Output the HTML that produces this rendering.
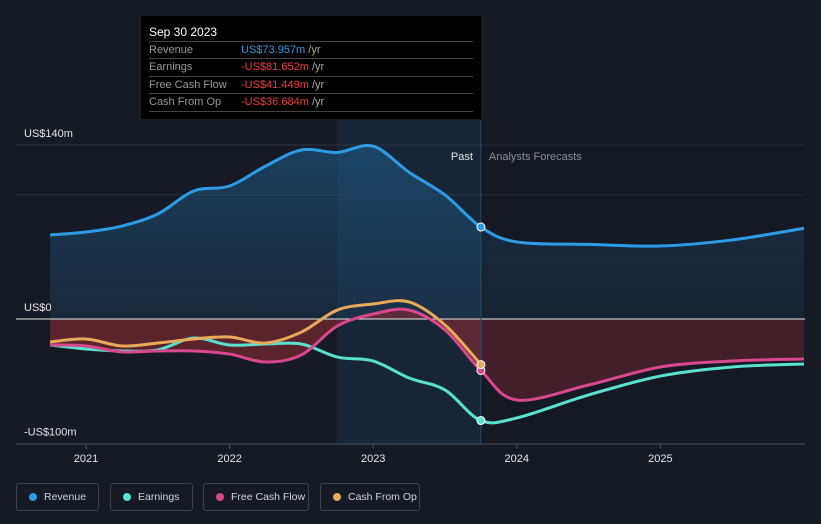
<!DOCTYPE html>
<html><head><meta charset="utf-8">
<style>
body{margin:0;background:#151a24;font-family:"Liberation Sans",sans-serif;}
#wrap{position:relative;width:821px;height:524px;overflow:hidden;background:#151a24;}
.leg{position:absolute;top:483px;height:28px;border:1px solid #3a414d;border-radius:3px;color:#d0d4da;font-size:10.5px;line-height:26px;box-sizing:border-box;padding-left:27px;white-space:nowrap;}
.leg i{position:absolute;left:12px;top:9px;width:8px;height:8px;border-radius:50%;}
#tip{position:absolute;left:141px;top:16px;width:340px;height:103px;background:#000;color:#fff;font-size:11px;}
#tip .r{position:absolute;left:8px;width:324px;border-top:1px solid #444;height:17px;line-height:17px;color:#999;}
#tip .r span{position:absolute;left:92px;}
</style></head><body>
<div id="wrap">
<svg id="svg" width="821" height="524" style="position:absolute;left:0;top:0"></svg>
<div id="tip">
<div style="position:absolute;left:8px;top:9px;font-size:12px;">Sep 30 2023</div>
<div class="r" style="top:25px">Revenue<span style="color:#2d9be6">US$73.957m <b style="font-weight:normal;color:#aaa">/yr</b></span></div>
<div class="r" style="top:42px">Earnings<span style="color:#ef3b3b">-US$81.652m <b style="font-weight:normal;color:#aaa">/yr</b></span></div>
<div class="r" style="top:60px">Free Cash Flow<span style="color:#ef3b3b">-US$41.449m <b style="font-weight:normal;color:#aaa">/yr</b></span></div>
<div class="r" style="top:77px">Cash From Op<span style="color:#ef3b3b">-US$36.684m <b style="font-weight:normal;color:#aaa">/yr</b></span></div>
<div class="r" style="top:95px;height:0"></div>
</div>
<div class="leg" style="left:16px;width:83px"><i style="background:#2d9be6"></i>Revenue</div>
<div class="leg" style="left:110px;width:83px"><i style="background:#58e1d0"></i>Earnings</div>
<div class="leg" style="left:203px;width:106px"><i style="background:#d9478f"></i>Free Cash Flow</div>
<div class="leg" style="left:320px;width:100px"><i style="background:#e8a95a"></i>Cash From Op</div>
</div>
<script>
const revT=[2020.75,2021,2021.25,2021.5,2021.75,2022,2022.25,2022.5,2022.75,2023,2023.25,2023.5,2023.75,2024,2024.5,2025,2025.5,2026];
const revV=[67.6,70,74.8,84.5,103,107,123,136,134,139,118,99.8,74,62,60,58.7,63.6,73];
const earnT=revT;
const earnV=[-20.9,-24.1,-25.7,-24.9,-15.3,-20.9,-20.1,-20.1,-30.6,-33.8,-47.5,-57.1,-81.7,-79.6,-61.1,-45.9,-38.6,-36.2];
const fcfV=[-20.9,-21.7,-26.5,-25.7,-25.7,-28.2,-34.6,-28.9,-5.6,4,7.2,-8.8,-41.4,-65.2,-53.1,-38.6,-33.8,-32.2];
const cfoT=[2020.75,2021,2021.25,2021.5,2021.75,2022,2022.25,2022.5,2022.75,2023,2023.25,2023.5,2023.75];
const cfoV=[-18.5,-16.1,-21.7,-19.3,-16.1,-14.5,-19.3,-10.5,7.2,12.1,13.7,-4.8,-36.7];
const yTicks=[140,0,-100];
const yLabels=["US$140m","US$0","-US$100m"];
const xTicks=[2021,2022,2023,2024,2025];
const X=t=>86+(t-2021)*143.6, Y=v=>319-v*1.243;
const svg=document.getElementById('svg'),NS='http://www.w3.org/2000/svg';
function el(tag,a,p){const e=document.createElementNS(NS,tag);for(const k in a)e.setAttribute(k,a[k]);(p||svg).appendChild(e);return e;}
function pts(T,V){return T.map((t,i)=>[X(t),Y(V[i])]);}
function path(P){let d='M'+P[0][0]+','+P[0][1];for(let i=0;i<P.length-1;i++){const p0=P[i-1]||P[i],p1=P[i],p2=P[i+1],p3=P[i+2]||p2;d+=` C${p1[0]+(p2[0]-p0[0])/6},${p1[1]+(p2[1]-p0[1])/6} ${p2[0]-(p3[0]-p1[0])/6},${p2[1]-(p3[1]-p1[1])/6} ${p2[0]},${p2[1]}`;}return d;}
const defs=el('defs',{});
const g=el('linearGradient',{id:'rg',x1:0,y1:0,x2:0,y2:1},defs);
el('stop',{offset:0,'stop-color':'#1e5a86','stop-opacity':0.6},g);el('stop',{offset:1,'stop-color':'#1e4466','stop-opacity':0.35},g);
let e;
e=el('rect',{x:X(2022.75),y:120,width:X(2023.75)-X(2022.75),height:324,fill:'#1a3550',opacity:0.45});

[140,100].forEach(v=>{e=el('line',{x1:16,x2:805,y1:Y(v),y2:Y(v),stroke:'#2c3340'});});
const rp=pts(revT,revV);
e=el('path',{d:path(rp)+` L${rp[rp.length-1][0]},${Y(0)} L${rp[0][0]},${Y(0)} Z`,fill:'url(#rg)'});

const fp=pts(earnT,fcfV);
e=el('path',{d:path(fp)+` L${fp[fp.length-1][0]},${Y(0)} L${fp[0][0]},${Y(0)} Z`,fill:'#8a2a30',opacity:0.6});

e=el('rect',{x:X(2023.75),y:120,width:805-X(2023.75),height:324,fill:'#151a24',opacity:0.35});

e=el('line',{x1:16,x2:805,y1:Y(0),y2:Y(0),stroke:'#e8e8e8','stroke-width':1});

e=el('line',{x1:16,x2:805,y1:444,y2:444,stroke:'#4a505b'});

e=el('line',{x1:X(2023.75),x2:X(2023.75),y1:120,y2:444,stroke:'#2a4a66'});

const series=[[revT,revV,'#2d9be6','revenue-line'],[earnT,earnV,'#58e1d0','earnings-line'],[earnT,fcfV,'#d9478f','free-cash-flow-line'],[cfoT,cfoV,'#e8a95a','cash-from-op-line']];
series.forEach(s=>{e=el('path',{d:path(pts(s[0],s[1])),fill:'none',stroke:s[2],'stroke-width':3});
});
series.forEach(s=>{const i=s[0].indexOf(2023.75);e=el('circle',{cx:X(2023.75),cy:Y(s[1][i]),r:4,fill:s[2],stroke:'#fff','stroke-width':1});
});
yTicks.forEach((v,i)=>{e=el('text',{x:24,y:Y(v)-8,fill:'#e6e6e6','font-size':11});e.textContent=yLabels[i];
});
xTicks.forEach(t=>{e=el('line',{x1:X(t),x2:X(t),y1:444,y2:449,stroke:'#4a505b'});
e=el('text',{x:X(t),y:462,fill:'#e6e6e6','font-size':11,'text-anchor':'middle'});e.textContent=t;
});
e=el('text',{x:X(2023.75)-8,y:160,fill:'#e6e6e6','font-size':11,'text-anchor':'end'});e.textContent='Past';

e=el('text',{x:X(2023.75)+8,y:160,fill:'#8a9099','font-size':11});e.textContent='Analysts Forecasts';

</script>
</body></html>
